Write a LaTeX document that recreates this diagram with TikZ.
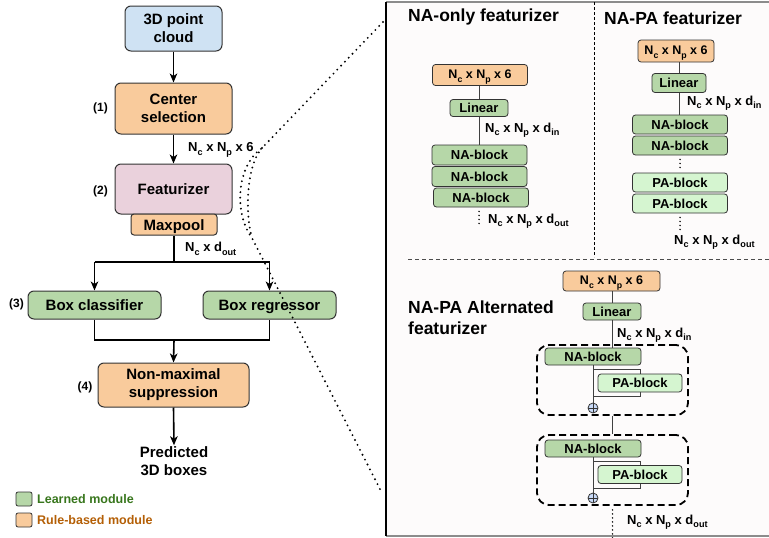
\documentclass[tikz,border=0pt]{standalone}
\usepackage{fontspec}
\setmainfont{Liberation Sans}
\usepackage{graphicx}
\usetikzlibrary{arrows.meta}

\definecolor{cblue}{HTML}{CFE2F3}
\definecolor{corange}{HTML}{F9CB9C}
\definecolor{cpink}{HTML}{EAD1DC}
\definecolor{cgreen}{HTML}{B6D7A8}
\definecolor{cpale}{HTML}{D5F5D0}
\definecolor{cplus}{HTML}{C9DAF8}
\definecolor{edge}{HTML}{333333}
\definecolor{legG}{HTML}{38761D}
\definecolor{legO}{HTML}{B45F06}
\definecolor{panelbg}{HTML}{FDFBFB}

% lowered, reduced index as used in the dimension labels
\newcommand\lowidx[1]{\raisebox{-3.5pt}{\scalebox{0.7}{#1}}}
\newcommand\ncnp[1]{N\lowidx{c} x N\lowidx{p} x #1}

\begin{document}
\begin{tikzpicture}[x=1pt,y=-1pt,
  font=\bfseries,
  mainbox/.style={draw=edge, line width=1pt, rounded corners=6pt, align=center,
    font=\fontsize{15}{18}\selectfont\bfseries, inner sep=0pt},
  onebox/.style={mainbox, text height=11pt, text depth=0pt},
  blk/.style={draw=edge, line width=0.8pt, rounded corners=3pt,
    font=\fontsize{13}{15}\selectfont\bfseries, inner sep=0pt,
    text height=9.5pt, text depth=0pt},
  inbox/.style={blk, fill=corange, font=\fontsize{12.5}{15}\selectfont\bfseries,
    text height=9pt, text depth=2pt},
  nab/.style={blk, fill=cgreen},
  pab/.style={blk, fill=cpale},
  step lbl/.style={font=\fontsize{12}{14}\selectfont\bfseries},
  dimlbl/.style={font=\fontsize{13}{15}\selectfont\bfseries, anchor=west, inner sep=0pt},
  title/.style={font=\fontsize{17.5}{21}\selectfont\bfseries, anchor=west, inner sep=0pt, align=left},
  arr/.style={line width=1.6pt, -{Stealth[length=9pt,width=7.5pt,inset=2.5pt]}},
  flow/.style={line width=1.6pt},
  conn/.style={draw=black!75, line width=0.9pt},
  vdots/.style={line width=1.7pt, line cap=round, dash pattern=on 0pt off 4pt},
  callout/.style={line width=2.1pt, line cap=round, dash pattern=on 0pt off 5.5pt},
  grpbox/.style={draw=black, line width=1.8pt, dash pattern=on 7pt off 4pt,
    rounded corners=12pt, inner sep=0pt, minimum width=151pt, minimum height=70pt},
  plus/.style={circle, draw=edge, fill=cplus, line width=0.8pt, minimum size=10pt, inner sep=0pt,
    path picture={\draw[edge, line width=0.7pt]
      (path picture bounding box.north) -- (path picture bounding box.south)
      (path picture bounding box.west) -- (path picture bounding box.east);}},
  legsq/.style={draw=edge, line width=0.8pt, rounded corners=2pt, minimum width=16pt, minimum height=14pt, inner sep=0pt},
]
\useasboundingbox (0,0) rectangle (769,538);

% ---------------- right-hand detail panel ----------------
\fill[panelbg] (386,2) rectangle (769,536);
\draw[black!45, line width=1.5pt] (386,2) -- (769,2) (386,536) -- (769,536);
\draw[black, line width=1.2pt] (386,2) -- (386,536);
\draw[black, line width=0.8pt, dash pattern=on 3pt off 2pt] (594,2) -- (594,257);
\draw[black!70, line width=1pt, dash pattern=on 4pt off 3pt] (408,259) -- (769,259);

% ---------------- pipeline ----------------
\node[mainbox, fill=cblue, minimum width=97pt, minimum height=45pt] (cloud) at (173.5,28.5) {3D point\\cloud};
\node[mainbox, fill=corange, minimum width=117pt, minimum height=51pt] (center) at (173.5,108.5) {Center\\selection};
\node[onebox, fill=cpink, minimum width=117pt, minimum height=50pt] (feat) at (173.5,189) {Featurizer};
\node[onebox, fill=corange, rounded corners=3pt, minimum width=86pt, minimum height=21pt] (maxpool) at (174,224.5) {Maxpool};
\node[onebox, fill=cgreen, minimum width=133pt, minimum height=28pt] (cls) at (94.5,305) {Box classifier};
\node[onebox, fill=cgreen, minimum width=133pt, minimum height=28pt] (reg) at (269.5,305) {Box regressor};
\node[mainbox, fill=corange, minimum width=151pt, minimum height=44pt] (nms) at (173.5,385) {Non-maximal\\suppression};
\node[align=center, font=\fontsize{15}{18}\selectfont\bfseries, inner sep=1pt] (pred) at (174,461) {Predicted\\3D boxes};

\node[step lbl] (s1) at (100.5,108) {(1)};
\node[step lbl] (s2) at (100.5,191) {(2)};
\node[step lbl] (s3) at (16.5,304) {(3)};
\node[step lbl] (s4) at (85,387) {(4)};

\node[dimlbl] (dimA) at (188,150) {\ncnp{6}};
\node[dimlbl] (dimB) at (185,249) {N\lowidx{c} x d\lowidx{out}};

\coordinate (split) at (174,262);
\coordinate (merge) at (174,340);

\draw[arr] (cloud) -- (center);
\draw[arr] (center) -- (feat);
\draw[flow] (maxpool) -- (split);
\draw[flow] (cls.north |- split) -- (reg.north |- split);
\draw[arr] (cls.north |- split) -- (cls.north);
\draw[arr] (reg.north |- split) -- (reg.north);
\draw[flow] (cls.south) -- (cls.south |- merge) -- (reg.south |- merge) -- (reg.south);
\draw[arr] (merge) -- (nms.north);
\draw[arr] (nms.south) -- (pred.north);

% legend
\node[legsq, fill=cgreen] (lg1) at (24,499) {};
\node[legsq, fill=corange] (lg2) at (24,520) {};
\node[anchor=west, inner sep=0pt, text=legG, font=\fontsize{12.5}{15}\selectfont\bfseries] (lt1) at (37,499) {Learned module};
\node[anchor=west, inner sep=0pt, text=legO, font=\fontsize{12.5}{15}\selectfont\bfseries] (lt2) at (37,520) {Rule-based module};

% ---------------- NA-only featurizer ----------------
\node[title] (t1) at (408,17) {NA-only featurizer};
\node[inbox, minimum width=95pt, minimum height=21pt] (in1) at (480,75) {\ncnp{6}};
\node[nab, minimum width=58pt, minimum height=17pt] (lin1) at (479,108) {Linear};
\node[nab, minimum width=95pt, minimum height=20pt] (na1a) at (479.5,155) {NA-block};
\node[nab, minimum width=95pt, minimum height=20pt] (na1b) at (479.5,176.5) {NA-block};
\node[nab, minimum width=95pt, minimum height=19pt] (na1c) at (481,197.5) {NA-block};
\node[dimlbl] (d1in) at (485,130) {\ncnp{d\lowidx{in}}};
\node[dimlbl] (d1out) at (488,221) {\ncnp{d\lowidx{out}}};
\coordinate (e1) at (479,224);
\draw[conn] (in1.south -| lin1) -- (lin1.north);
\draw[conn] (lin1.south) -- (lin1.south |- na1a.north);
\draw[vdots, shorten <=4pt] (lin1.south |- na1c.south) -- (e1);

% ---------------- NA-PA featurizer ----------------
\node[title] (t2) at (604,18) {NA-PA featurizer};
\node[inbox, minimum width=76pt, minimum height=22pt] (in2) at (676,51) {\ncnp{6}};
\node[nab, minimum width=54pt, minimum height=19pt] (lin2) at (679,83) {Linear};
\node[nab, minimum width=95pt, minimum height=19pt] (na2a) at (680,124.5) {NA-block};
\node[nab, minimum width=95pt, minimum height=19pt] (na2b) at (680,145.5) {NA-block};
\node[pab, minimum width=95pt, minimum height=19pt] (pa2a) at (680,182.5) {PA-block};
\node[pab, minimum width=95pt, minimum height=19pt] (pa2b) at (680,203.5) {PA-block};
\node[dimlbl] (d2in) at (687,103) {\ncnp{d\lowidx{in}}};
\node[dimlbl] (d2out) at (674,242) {\ncnp{d\lowidx{out}}};
\coordinate (e2) at (680,232);
\draw[conn] (in2.south -| lin2) -- (lin2.north);
\draw[conn] (lin2.south) -- (lin2.south |- na2a.north);
\draw[vdots, shorten <=4pt, shorten >=3pt] (na2b.south) -- (pa2a.north);
\draw[vdots, shorten <=4pt] (pa2b.south) -- (e2);

% ---------------- NA-PA Alternated featurizer ----------------
\node[title] (t3) at (408,318) {NA-PA Alternated\\featurizer};
\node[inbox, minimum width=97pt, minimum height=20pt] (in3) at (611.5,281) {\ncnp{6}};
\node[nab, minimum width=58pt, minimum height=17pt] (lin3) at (612,311.5) {Linear};
\node[dimlbl] (d3in) at (617,335) {\ncnp{d\lowidx{in}}};

\node[grpbox] (grp1) at (612.5,380) {};
\node[grpbox] (grp2) at (612.5,470) {};

% first NA/PA pair with residual sum
\draw[conn, line width=0.7pt] (593,369) rectangle (640,396);
\node[nab, minimum width=96pt, minimum height=17pt] (na3a) at (593,356.5) {NA-block};
\node[pab, minimum width=84pt, minimum height=18pt] (pa3a) at (640,383) {PA-block};
\node[plus] (p1) at (593,408) {};
\draw[conn] (na3a.south) -- (p1.north);

% second NA/PA pair with residual sum
\draw[conn, line width=0.7pt] (593,461) rectangle (640,488);
\node[nab, minimum width=96pt, minimum height=17pt] (na3b) at (593,448.5) {NA-block};
\node[pab, minimum width=84pt, minimum height=18pt] (pa3b) at (640,474.5) {PA-block};
\node[plus] (p2) at (593,498) {};
\draw[conn] (na3b.south) -- (p2.north);

\draw[conn] (in3.south -| lin3) -- (lin3.north);
\draw[conn] (lin3.south) -- (lin3.south |- na3a.north);
\draw[conn] (grp1.south) -- (grp2.north);
\node[dimlbl] (d3out) at (627,522) {\ncnp{d\lowidx{out}}};
\coordinate (e3) at (612.5,540);
\draw[vdots, shorten <=4pt] (grp2.south) -- (e3);

% ---------------- zoom callout from the featurizer ----------------
\coordinate (c0) at (383,22);
\coordinate (c1) at (262,148);
\coordinate (c2) at (252,238);
\coordinate (c3) at (382,493);
\draw[callout] (c0) -- (c1) .. controls (236,166) and (234,214) .. (c2) -- (c3);
\draw[callout] (c1) .. controls (246,166) and (245,214) .. (c2);
\end{tikzpicture}
\end{document}
